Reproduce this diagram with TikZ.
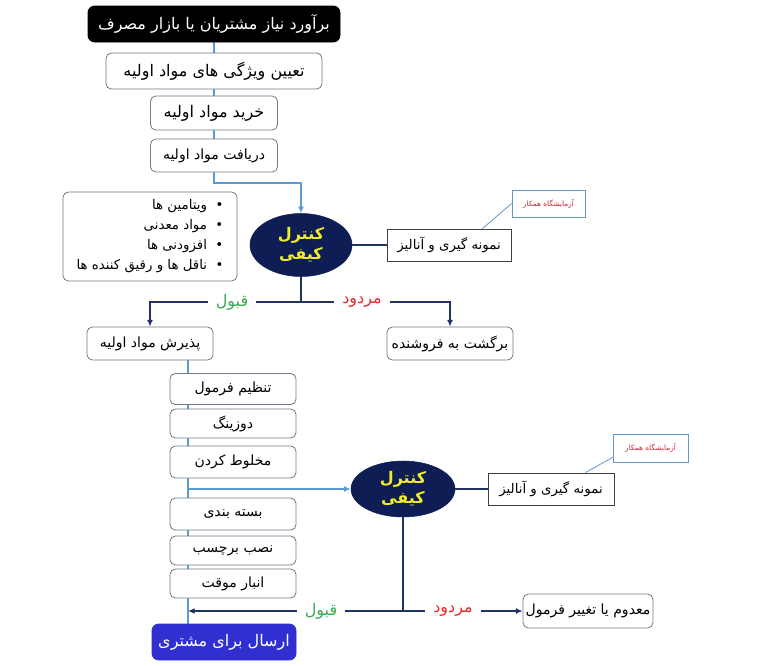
\documentclass[tikz,border=0pt]{standalone}
\usepackage{fontspec}
\newfontfamily\fa[Script=Arabic]{DejaVu Sans}
\TeXXeTstate=1
\usetikzlibrary{arrows.meta,backgrounds,shapes.geometric,calc}
\newcommand{\rtl}[1]{\beginR #1\endR}
\definecolor{boxgray}{RGB}{110,122,138}
\definecolor{navyfill}{RGB}{14,30,84}
\definecolor{navyline}{RGB}{31,50,96}
\definecolor{flowblue}{RGB}{91,155,213}
\definecolor{qcyellow}{RGB}{240,236,40}
\definecolor{okgreen}{RGB}{60,170,80}
\definecolor{nored}{RGB}{225,45,45}
\definecolor{labred}{RGB}{200,40,50}
\definecolor{labblue}{RGB}{100,150,200}
\definecolor{sendblue}{RGB}{48,48,208}
\begin{document}
\begin{tikzpicture}[x=0.75pt,y=-0.75pt,
  sz/.style 2 args={minimum width=#1*0.75pt,minimum height=#2*0.75pt},
  box/.style={draw=boxgray,rounded corners=4pt,fill=white,font=\fa\fontsize{10.5}{12}\selectfont,inner sep=0pt,line width=0.6pt},
  bigbox/.style={box,font=\fa\fontsize{12}{14}\selectfont},
  sq/.style={draw=black!75,fill=white,font=\fa\fontsize{10}{12}\selectfont,inner sep=0pt,line width=0.7pt},
  lab/.style={draw=labblue,fill=white,text=labred,font=\fa\fontsize{5.5}{7}\selectfont,inner sep=0pt,line width=0.5pt},
  qc/.style={ellipse,fill=navyfill,draw=navyfill,text=qcyellow,font=\fa\bfseries\fontsize{12}{15}\selectfont,align=center,inner sep=0pt},
  flow/.style={draw=flowblue,line width=1.1pt},
  br/.style={draw=navyline,line width=1pt},
  labline/.style={draw=labblue,line width=0.6pt},
  tip/.style={-{Latex[length=5pt,width=4.5pt]}},
  ok/.style={text=okgreen,fill=white,font=\fa\fontsize{12}{14}\selectfont,inner xsep=6pt},
  no/.style={text=nored,fill=white,font=\fa\fontsize{12}{14}\selectfont,inner xsep=6pt}]
\useasboundingbox (0,0) rectangle (768,665);
% top chain
\node[bigbox,sz={252}{36},fill=black,draw=black,text=white,rounded corners=5pt] (top) at (214,24) {\rtl{برآورد نیاز مشتریان یا بازار مصرف}};
\node[bigbox,sz={216}{36}] (t1) at (214,71) {\rtl{تعیین ویژگی های مواد اولیه}};
\node[bigbox,sz={127}{34}] (t2) at (214,113) {\rtl{خرید مواد اولیه}};
\node[box,sz={127}{33}] (t3) at (214,155.5) {\rtl{دریافت مواد اولیه}};
\node[box,sz={174}{89},align=right,font=\fa\fontsize{10}{15}\selectfont] (mat) at (150,236.5)
  {\rtl{•\ \ ویتامین ها}\\ \rtl{•\ \ مواد معدنی}\\ \rtl{•\ \ افزودنی ها}\\ \rtl{•\ \ ناقل ها و رقیق کننده ها}};
\node[qc,sz={102}{63}] (qc1) at (301,245) {\rtl{کنترل}\\ \rtl{کیفی}};
\node[sq,sz={124}{32}] (s1) at (449,245) {\rtl{نمونه گیری و آنالیز}};
\node[lab,sz={73}{27}] (lab1) at (548.5,203.5) {\rtl{آزمایشگاه همکار}};
\node[box,sz={126}{33}] (acc1) at (150,343.5) {\rtl{پذیرش مواد اولیه}};
\node[box,sz={126}{33}] (rej1) at (450,343.5) {\rtl{برگشت به فروشنده}};
% production stack
\node[box,sz={126}{31}] (f1) at (233,389) {\rtl{تنظیم فرمول}};
\node[box,sz={126}{29}] (f2) at (233,423.5) {\rtl{دوزینگ}};
\node[box,sz={126}{32}] (f3) at (233,462) {\rtl{مخلوط کردن}};
\node[box,sz={126}{32}] (f4) at (233,514) {\rtl{بسته بندی}};
\node[box,sz={126}{29}] (f5) at (233,550.5) {\rtl{نصب برچسب}};
\node[box,sz={126}{29}] (f6) at (233,583.5) {\rtl{انبار موقت}};
\node[bigbox,sz={144}{36},fill=sendblue,draw=sendblue,text=white,rounded corners=5pt] (send) at (224,642) {\rtl{ارسال برای مشتری}};
\node[qc,sz={104}{56}] (qc2) at (403,489) {\rtl{کنترل}\\ \rtl{کیفی}};
\node[sq,sz={126}{32}] (s2) at (551,489) {\rtl{نمونه گیری و آنالیز}};
\node[lab,sz={75}{28}] (lab2) at (650.5,448) {\rtl{آزمایشگاه همکار}};
\node[box,sz={130}{34}] (disp) at (588,611) {\rtl{معدوم یا تغییر فرمول}};
% coordinates
\coordinate (c1) at (214,183);
\coordinate (j1) at (301,302);
\coordinate (v) at (188,0);
\coordinate (j2) at (qc2.south |- disp.west);
% connectors
\begin{scope}[on background layer]
\draw[flow] (top.south) -- (t1.north);
\draw[flow] (t1.south) -- (t2.north);
\draw[flow] (t2.south) -- (t3.north);
\draw[flow] (acc1.south -| v) -- (send.north -| v);
\end{scope}
\draw[flow,tip] (t3.south) -- (c1) -| (qc1.north);
\draw[br] (qc1.east) -- (s1.west);
\draw[labline] ($(s1.north east)+(-29,0)$) -- (lab1.west);
\draw[br] (qc1.south) -- (j1);
\draw[br,tip] (j1) -- (acc1.north |- j1) -- (acc1.north);
\draw[br,tip] (j1) -- (rej1.north |- j1) -- (rej1.north);
\node[ok] at (232,302) {\rtl{قبول}};
\node[no] at (362,302) {\rtl{مردود}};
\draw[flow,tip] (v |- qc2.west) -- (qc2.west);
\draw[br] (qc2.east) -- (s2.west);
\draw[labline] ($(s2.north east)+(-29,0)$) -- ($(lab2.south west)+(0,-5)$);
\draw[br] (qc2.south) -- (j2);
\draw[br,tip] (j2) -- (v |- j2);
\draw[br,tip] (j2) -- (disp.west);
\node[ok] at (321,611) {\rtl{قبول}};
\node[no] at (453,611) {\rtl{مردود}};
\end{tikzpicture}
\end{document}
